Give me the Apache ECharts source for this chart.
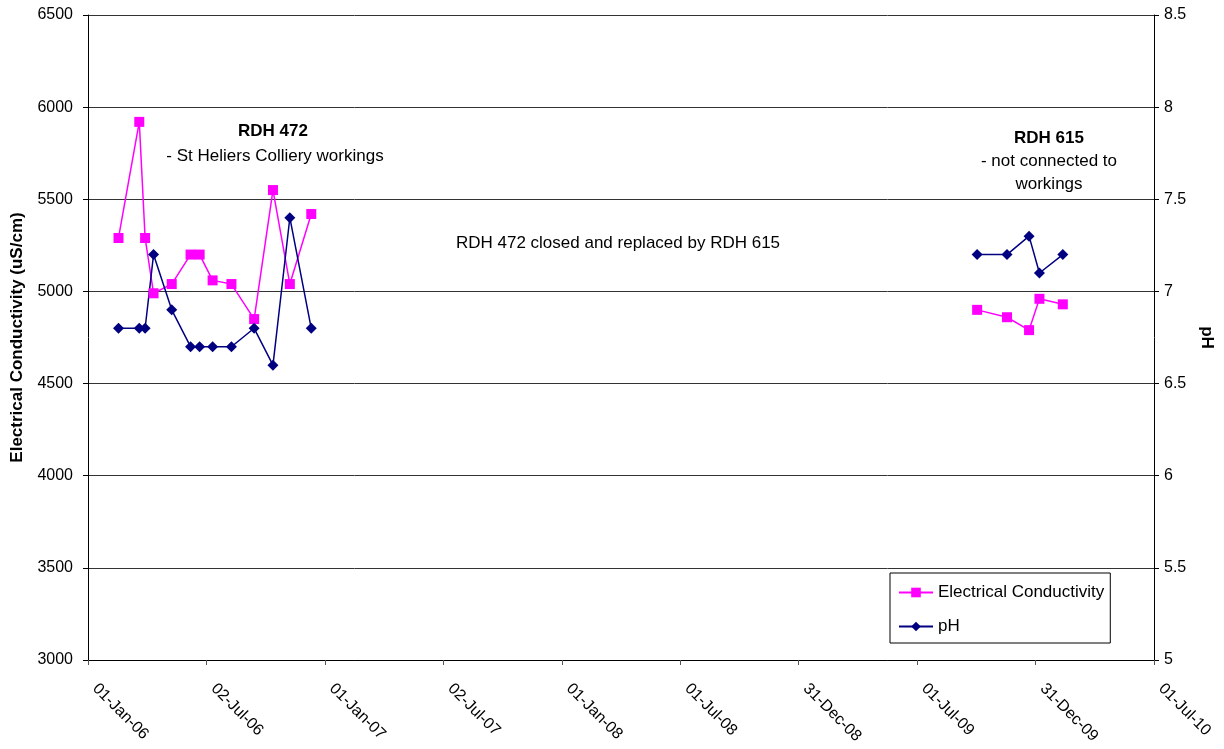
<!DOCTYPE html>
<html>
<head>
<meta charset="utf-8">
<script src="https://cdn.jsdelivr.net/npm/echarts@6/dist/echarts.min.js"></script>
<style>
html,body{margin:0;padding:0;background:#fff;}
#chart{width:1224px;height:749px;}
</style>
</head>
<body>
<div id="chart"></div>
<script>
// ---- data ----
const dates472 = ['2006-02-17','2006-03-21','2006-03-30','2006-04-12','2006-05-10','2006-06-08','2006-06-22','2006-07-12','2006-08-10','2006-09-14','2006-10-13','2006-11-08','2006-12-11'];
const ec472 = [5290, 5920, 5290, 4990, 5040, 5200, 5200, 5060, 5040, 4850, 5550, 5040, 5420];
const ph472 = [6.8, 6.8, 6.8, 7.2, 6.9, 6.7, 6.7, 6.7, 6.7, 6.8, 6.6, 7.4, 6.8];
const dates615 = ['2009-10-02','2009-11-17','2009-12-21','2010-01-06','2010-02-11'];
const ec615 = [4900, 4860, 4790, 4960, 4930];
const ph615 = [7.2, 7.2, 7.3, 7.1, 7.2];
const xTickLabels = ['01-Jan-06','02-Jul-06','01-Jan-07','02-Jul-07','01-Jan-08','01-Jul-08','31-Dec-08','01-Jul-09','31-Dec-09','01-Jul-10'];
const originDate = '2006-01-01';
const tickDays = 182.5;

const font = '"Liberation Sans", Arial, sans-serif';
const dayOf = d => (Date.parse(d) - Date.parse(originDate)) / 86400000;
const pairs = (ds, vs) => ds.map((d, i) => [dayOf(d), vs[i]]);

const ecData = pairs(dates472, ec472).concat([[null, null]], pairs(dates615, ec615));
const phData = pairs(dates472, ph472).concat([[null, null]], pairs(dates615, ph615));

const chart = echarts.init(document.getElementById('chart'));
chart.setOption({
  animation: false,
  backgroundColor: '#fff',
  textStyle: { fontFamily: font },
  grid: { left: 88, right: 70, top: 15, bottom: 89, containLabel: false },
  legend: {
    orient: 'vertical',
    left: 890, top: 573,
    backgroundColor: '#fff',
    borderColor: '#000', borderWidth: 1,
    padding: [11, 6, 8, 8],
    itemGap: 17, itemWidth: 34, itemHeight: 12,
    textStyle: { fontSize: 17, color: '#000', fontFamily: font },
    data: ['Electrical Conductivity', 'pH']
  },
  xAxis: {
    type: 'value',
    min: 0, max: tickDays * (xTickLabels.length - 1), interval: tickDays,
    axisLine: { lineStyle: { color: '#000', width: 1 } },
    axisTick: { show: true, length: 5, lineStyle: { color: '#555' } },
    splitLine: { show: false },
    axisLabel: {
      rotate: -45, margin: 19, fontSize: 16, color: '#000', fontFamily: font,
      padding: [0, 0, 0, 10],
      formatter: v => xTickLabels[Math.round(v / tickDays)] || ''
    }
  },
  yAxis: [
    {
      type: 'value', min: 3000, max: 6500, interval: 500,
      name: 'Electrical Conductivity (uS/cm)', nameLocation: 'middle', nameGap: 62,
      nameTextStyle: { fontSize: 17, fontWeight: 'bold', color: '#000', fontFamily: font },
      axisLine: { show: true, lineStyle: { color: '#000' } },
      axisTick: { show: true, length: 5, lineStyle: { color: '#000' } },
      axisLabel: { fontSize: 16, color: '#000', margin: 15, fontFamily: font, formatter: v => String(v) },
      splitLine: { show: true, lineStyle: { color: '#333', width: 1 } }
    },
    {
      type: 'value', min: 5, max: 8.5, interval: 0.5, position: 'right',
      name: 'pH', nameLocation: 'middle', nameGap: 44, nameRotate: -90,
      nameTextStyle: { fontSize: 17, fontWeight: 'bold', color: '#000', fontFamily: font },
      axisLine: { show: true, lineStyle: { color: '#000' } },
      axisTick: { show: true, length: 5, lineStyle: { color: '#000' } },
      axisLabel: { fontSize: 16, color: '#000', margin: 10, fontFamily: font, formatter: v => String(v) },
      splitLine: { show: false }
    }
  ],
  series: [
    {
      name: 'Electrical Conductivity', type: 'line', yAxisIndex: 0,
      data: ecData, connectNulls: false,
      symbol: 'rect', symbolSize: 10,
      lineStyle: { color: '#FF00FF', width: 1.5 },
      itemStyle: { color: '#FF00FF' }
    },
    {
      name: 'pH', type: 'line', yAxisIndex: 1,
      data: phData, connectNulls: false,
      symbol: 'diamond', symbolSize: 11,
      lineStyle: { color: '#000080', width: 1.5 },
      itemStyle: { color: '#000080' }
    }
  ],
  graphic: [
    { type: 'text', x: 273, y: 131, style: { text: 'RDH 472', font: 'bold 17px ' + font, fill: '#000', align: 'center', verticalAlign: 'middle' } },
    { type: 'text', x: 275, y: 156, style: { text: '- St Heliers Colliery workings', font: '17px ' + font, fill: '#000', align: 'center', verticalAlign: 'middle' } },
    { type: 'text', x: 618, y: 243, style: { text: 'RDH 472 closed and replaced by RDH 615', font: '17px ' + font, fill: '#000', align: 'center', verticalAlign: 'middle' } },
    { type: 'text', x: 1049, y: 138, style: { text: 'RDH 615', font: 'bold 17px ' + font, fill: '#000', align: 'center', verticalAlign: 'middle' } },
    { type: 'text', x: 1049, y: 161, style: { text: '- not connected to', font: '17px ' + font, fill: '#000', align: 'center', verticalAlign: 'middle' } },
    { type: 'text', x: 1049, y: 184, style: { text: 'workings', font: '17px ' + font, fill: '#000', align: 'center', verticalAlign: 'middle' } }
  ]
});
</script>
</body>
</html>
